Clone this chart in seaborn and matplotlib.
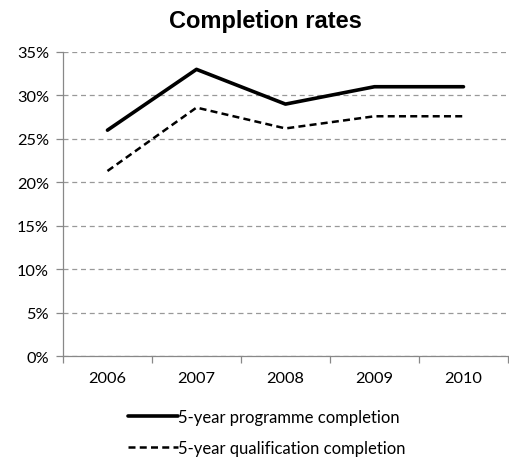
import matplotlib
matplotlib.use("Agg")
import matplotlib.pyplot as plt
import matplotlib.ticker as mticker
import numpy as np
import pandas as pd
import seaborn as sns

years = ["2006", "2007", "2008", "2009", "2010"]
programme = [26.0, 33.0, 29.0, 31.0, 31.0]
qualification = [21.3, 28.6, 26.2, 27.6, 27.6]
series_names = ["5-year programme completion", "5-year qualification completion"]

sns.set_theme(style="white")
plt.rcParams["font.family"] = ["Lato", "DejaVu Sans"]
plt.rcParams["text.color"] = "black"

df = pd.DataFrame({
    "pos": list(range(len(years))) * 2,
    "rate": programme + qualification,
    "series": [series_names[0]] * len(years) + [series_names[1]] * len(years),
})

fig = plt.figure(figsize=(5.10, 4.64), dpi=100)
ax = fig.add_axes([0.1235, 0.2306, 0.8725, 0.6552])

sns.lineplot(data=df[df.series == series_names[0]], x="pos", y="rate",
             color="black", linewidth=2.6, ax=ax, label=series_names[0],
             solid_capstyle="round")
sns.lineplot(data=df[df.series == series_names[1]], x="pos", y="rate",
             color="black", linewidth=1.8, ax=ax, label=series_names[1],
             dashes=False, linestyle=(0, (2.8, 1.7)))

ax.set_xlim(-0.5, len(years) - 0.5)
ax.set_ylim(0, 35)
ax.set_yticks(np.arange(0, 36, 5))
ax.yaxis.set_major_formatter(mticker.FuncFormatter(lambda v, p: f"{int(v)}%"))
ax.yaxis.grid(True, color="#999999", linestyle=(0, (4, 3)), linewidth=0.9)
ax.set_axisbelow(True)

# category boundaries get tick marks, centres get the year labels
ax.set_xticks(np.arange(-0.5, len(years), 1.0))
ax.set_xticklabels([])
ax.set_xticks(range(len(years)), minor=True)
ax.set_xticklabels(years, minor=True)
ax.tick_params(axis="x", which="major", length=5, width=0.9, color="#888888", direction="out", bottom=True)
ax.tick_params(axis="x", which="minor", length=0, pad=11, labelsize=11.8, labelcolor="black")
ax.tick_params(axis="y", length=5, width=0.9, color="#888888", direction="out", left=True,
               labelsize=11.8, labelcolor="black", pad=5)

for side in ["top", "right"]:
    ax.spines[side].set_visible(False)
for side in ["left", "bottom"]:
    ax.spines[side].set_color("#888888")
    ax.spines[side].set_linewidth(0.9)

ax.set_xlabel("")
ax.set_ylabel("")

fig.suptitle("Completion rates", x=0.52, y=0.978, fontsize=17, color="black",
             fontweight="bold", family=["Liberation Sans", "DejaVu Sans"])

handles, labels = ax.get_legend_handles_labels()
ax.legend_.remove()
fig.legend(handles, labels, loc="center", bbox_to_anchor=(0.523, 0.066), ncol=1,
           frameon=False, fontsize=12, handlelength=3.0, handletextpad=0.05,
           labelspacing=0.9, borderpad=0, labelcolor="black")

fig.savefig("out.png", dpi=100)
